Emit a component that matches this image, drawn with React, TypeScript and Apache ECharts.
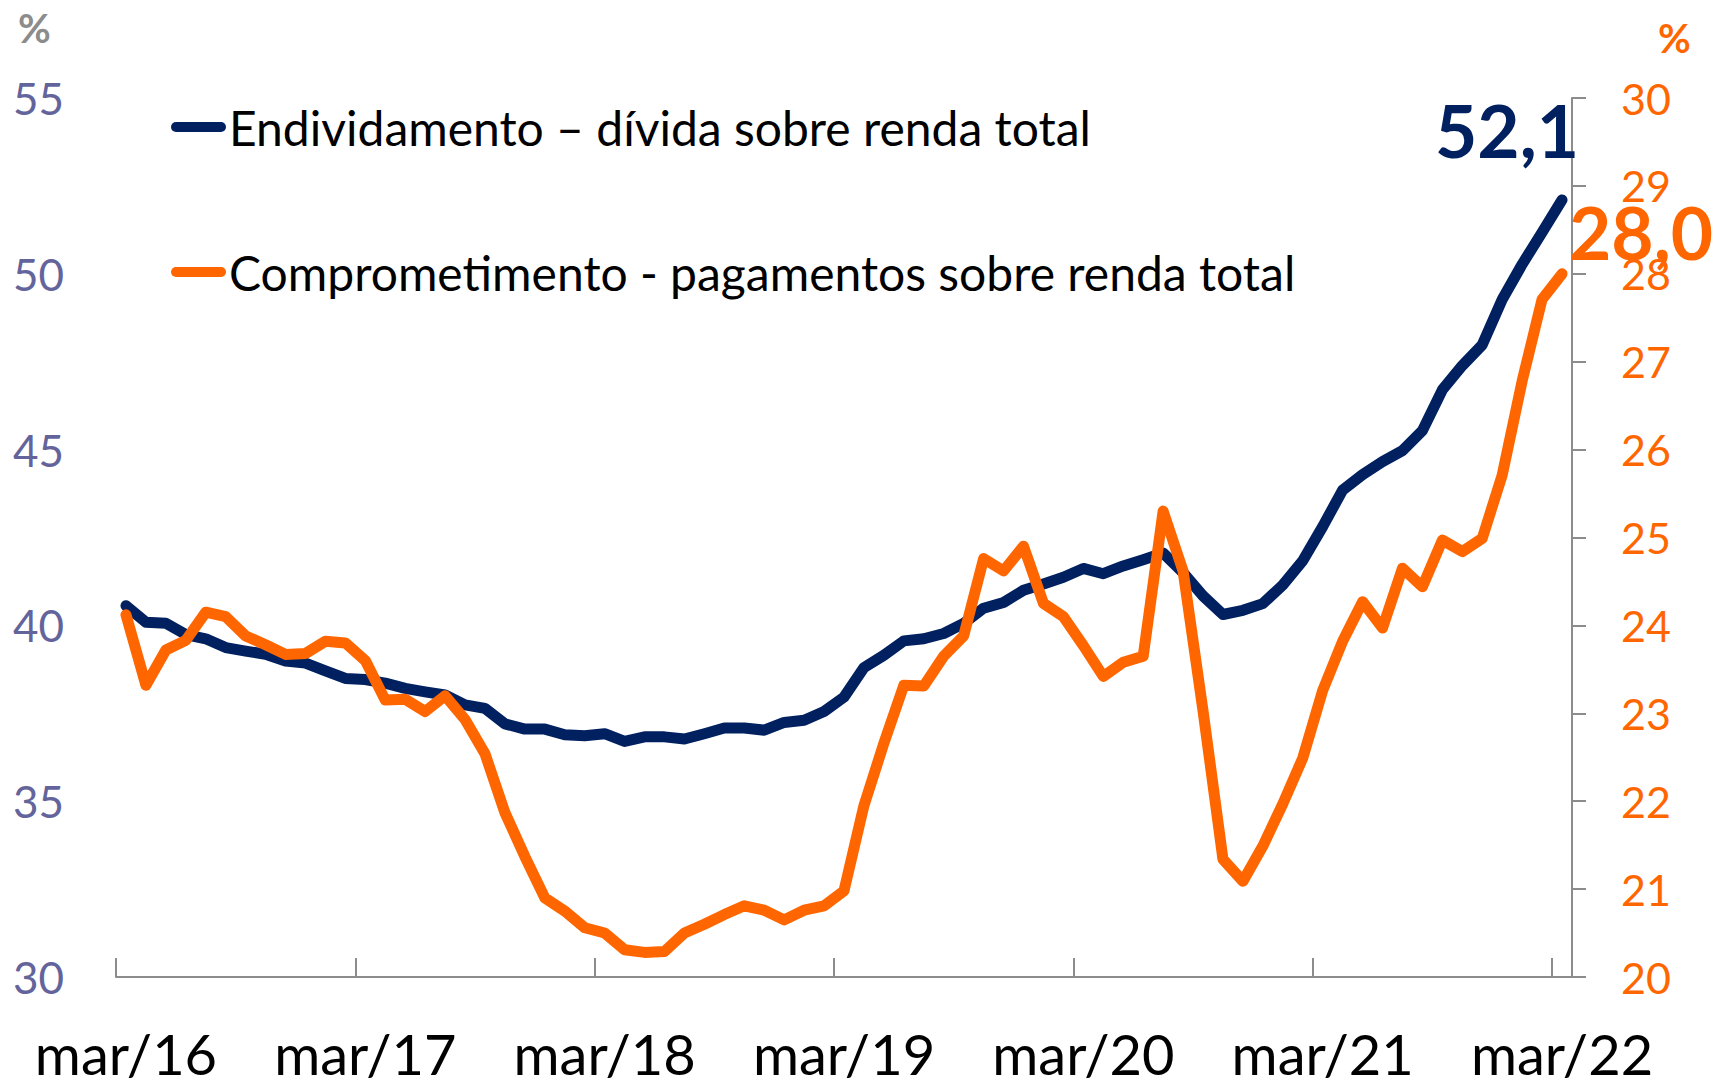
import React, { useEffect, useRef } from "react";
import * as echarts from "echarts";

const monthNames = ["jan", "fev", "mar", "abr", "mai", "jun", "jul", "ago", "set", "out", "nov", "dez"];
const startYear = 16;
const startMonth = 2; // mar
const pointCount = 73;
const categories: string[] = Array.from({ length: pointCount }, (_, i) => {
  const m = startMonth + i;
  return monthNames[m % 12] + "/" + (startYear + Math.floor(m / 12));
});

const endividamento = [
  40.56, 40.09, 40.06, 39.74, 39.62, 39.37, 39.27, 39.18, 38.99, 38.93, 38.71, 38.49,
  38.46, 38.36, 38.21, 38.11, 38.02, 37.74, 37.64, 37.2, 37.05, 37.05, 36.89, 36.86,
  36.92, 36.7, 36.83, 36.83, 36.77, 36.92, 37.08, 37.08, 37.02, 37.24, 37.3, 37.55,
  37.96, 38.8, 39.15, 39.56, 39.62, 39.77, 40.06, 40.49, 40.65, 41.0, 41.18, 41.37,
  41.62, 41.47, 41.69, 41.87, 42.06, 41.5, 40.84, 40.31, 40.43, 40.62, 41.15, 41.84,
  42.81, 43.85, 44.29, 44.66, 44.97, 45.54, 46.7, 47.39, 47.98, 49.27, 50.27, 51.18,
  52.1,
];

const comprometimento = [
  24.12, 23.32, 23.72, 23.83, 24.15, 24.1, 23.88, 23.78, 23.67, 23.68, 23.82, 23.8,
  23.6, 23.15, 23.16, 23.02, 23.2, 22.93, 22.54, 21.87, 21.37, 20.9, 20.75, 20.56,
  20.5, 20.31, 20.28, 20.29, 20.5, 20.6, 20.71, 20.81, 20.76, 20.65, 20.76, 20.81,
  20.98, 21.95, 22.66, 23.32, 23.31, 23.65, 23.88, 24.76, 24.62, 24.9, 24.25, 24.1,
  23.77, 23.42, 23.58, 23.65, 25.3, 24.62, 23.03, 21.34, 21.09, 21.49, 21.97, 22.49,
  23.26, 23.82, 24.27, 23.97, 24.65, 24.44, 24.97, 24.84, 24.99, 25.71, 26.78, 27.71,
  28.0,
];

const seriesNames = [
  "Endividamento – dívida sobre renda total",
  "Comprometimento - pagamentos sobre renda total",
];
const endLabels = ["52,1", "28,0"];
const leftTicks = { min: 30, max: 55, interval: 5 };
const rightTicks = { min: 20, max: 30, interval: 1 };

const NAVY = "#002060";
const ORANGE = "#FF6600";
const FONT = "Lato";

export default function App() {
  const ref = useRef<HTMLDivElement>(null);

  useEffect(() => {
    if (!ref.current) return;
    const chart = echarts.init(ref.current, undefined, { renderer: "svg" });
    const legendIcon = "path://M5,0 L50,0 A5,5,0,0,1,50,10 L5,10 A5,5,0,0,1,5,0 Z";
    chart.setOption({
      animation: false,
      backgroundColor: "#ffffff",
      textStyle: { fontFamily: FONT },
      grid: { left: 116, right: 155, top: 98, bottom: 110, containLabel: false },
      legend: {
        orient: "vertical",
        left: 171,
        top: 100,
        itemGap: 91,
        itemWidth: 55,
        itemHeight: 12,
        padding: 0,
        selectedMode: false,
        textStyle: { fontSize: 48, color: "#000000", fontFamily: FONT, lineHeight: 54, padding: [0, 0, 0, -2] },
        data: [
          { name: seriesNames[0], icon: legendIcon, itemStyle: { color: NAVY } },
          { name: seriesNames[1], icon: legendIcon, itemStyle: { color: ORANGE } },
        ],
      },
      xAxis: {
        type: "category",
        data: categories,
        boundaryGap: true,
        axisLine: { show: true, lineStyle: { color: "#8c8c8c", width: 2 } },
        axisTick: { show: true, inside: true, length: 19, interval: 11, lineStyle: { color: "#8c8c8c", width: 2 } },
        axisLabel: { interval: 11, fontSize: 56, lineHeight: 50, color: "#000000", fontFamily: FONT, margin: 51 },
        splitLine: { show: false },
      },
      yAxis: [
        {
          type: "value",
          position: "left",
          min: leftTicks.min,
          max: leftTicks.max,
          interval: leftTicks.interval,
          axisLine: { show: false },
          axisTick: { show: false },
          splitLine: { show: false },
          axisLabel: { fontSize: 44, color: "#64649c", fontFamily: FONT, margin: 52 },
        },
        {
          type: "value",
          position: "right",
          min: rightTicks.min,
          max: rightTicks.max,
          interval: rightTicks.interval,
          axisLine: { show: true, lineStyle: { color: "#8c8c8c", width: 2 } },
          axisTick: { show: true, inside: false, length: 14, lineStyle: { color: "#8c8c8c", width: 2 } },
          splitLine: { show: false },
          axisLabel: { fontSize: 43, color: ORANGE, fontFamily: FONT, margin: 49 },
        },
      ],
      graphic: [
        { type: "text", left: 18, top: 8, style: { text: "%", fontSize: 40, fontWeight: "bold", fill: "#8c8c8c", fontFamily: FONT } },
        { type: "text", left: 1658, top: 18, style: { text: "%", fontSize: 40, fontWeight: "bold", fill: ORANGE, fontFamily: FONT } },
      ],
      series: [
        {
          name: seriesNames[0],
          type: "line",
          yAxisIndex: 0,
          data: endividamento,
          showSymbol: false,
          symbol: "none",
          color: NAVY,
          lineStyle: { color: NAVY, width: 11, cap: "round", join: "round" },
          z: 3,
          endLabel: {
            show: true,
            formatter: endLabels[0],
            fontSize: 73,
            fontWeight: "bold",
            color: NAVY,
            fontFamily: FONT,
            align: "center",
            verticalAlign: "middle",
            distance: 0,
            offset: [-55, -70],
          },
        },
        {
          name: seriesNames[1],
          type: "line",
          yAxisIndex: 1,
          data: comprometimento,
          showSymbol: false,
          symbol: "none",
          color: ORANGE,
          lineStyle: { color: ORANGE, width: 11, cap: "round", join: "round" },
          z: 4,
          endLabel: {
            show: true,
            formatter: endLabels[1],
            fontSize: 73,
            fontWeight: "bold",
            color: ORANGE,
            fontFamily: FONT,
            align: "center",
            verticalAlign: "middle",
            distance: 0,
            offset: [79, -42],
          },
        },
      ],
    });
    return () => chart.dispose();
  }, []);

  return (
    <div
      ref={ref}
      style={{ position: "absolute", left: 0, top: 0, width: 1727, height: 1087, background: "#fff" }}
    />
  );
}
